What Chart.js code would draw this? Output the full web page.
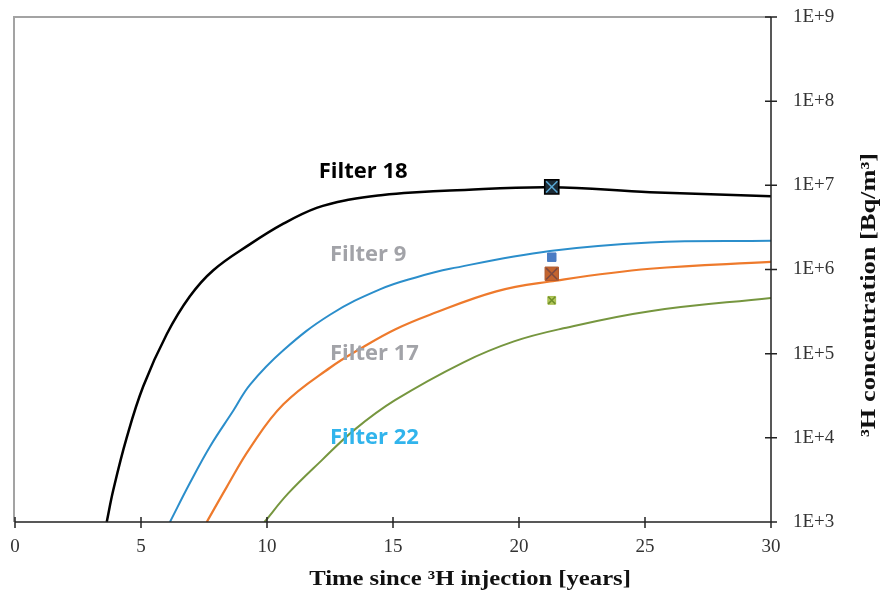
<!DOCTYPE html>
<html>
<head>
  <meta charset="UTF-8">
  <title>3H concentration vs time</title>
  <script src="https://cdn.jsdelivr.net/npm/chart.js"></script>
  <style>
    body { margin: 0; background: #fff; }
    canvas { display: block; }
  </style>
</head>
<body>
  <canvas id="chart" width="887" height="595"></canvas>

  <script>
    // Model curves (years since injection, Bq/m3)
    const f18Years  = [3.64, 3.9, 4.43, 5.09, 6.02, 6.94, 7.87, 9.33, 10.65, 11.97, 13.29, 14.6, 15.94, 17.26, 21.23, 25.2, 30];
    const f18Values = [1.0e3, 2.4e3, 1.0e4, 4.1e4, 1.7e5, 4.8e5, 9.8e5, 2.0e6, 3.5e6, 5.4e6, 6.8e6, 7.7e6, 8.3e6, 8.7e6, 9.5e6, 8.3e6, 7.4e6];

    const f9Years  = [6.15, 6.94, 7.74, 8.66, 9.33, 10.65, 12.5, 14.48, 15.94, 17.26, 21.23, 25.2, 30];
    const f9Values = [1.0e3, 2.9e3, 7.9e3, 2.1e4, 4.3e4, 1.1e5, 2.9e5, 5.8e5, 8.1e5, 1.02e6, 1.66e6, 2.1e6, 2.2e6];

    const f17Years  = [7.61, 8.4, 9.33, 10.65, 12.5, 13.82, 15.1, 16.47, 19.1, 21.23, 25.2, 30];
    const f17Values = [1.0e3, 2.6e3, 7.6e3, 2.5e4, 6.8e4, 1.2e5, 1.95e5, 2.9e5, 5.5e5, 7.2e5, 1.02e6, 1.23e6];

    const f22Years  = [9.9, 10.85, 12.17, 13.49, 15.08, 17.8, 19.8, 21.76, 25.2, 30];
    const f22Values = [1.0e3, 2.2e3, 5.4e3, 1.26e4, 2.8e4, 7.9e4, 1.4e5, 2.0e5, 3.2e5, 4.6e5];

    // Measured samples
    const sampleYear = 21.3;
    const sampleValues = { f18: 9.6e6, f9: 1.4e6, f17: 8.9e5, f22: 4.3e5 };

    // Axis ticks
    const xTicks = [0, 5, 10, 15, 20, 25, 30];
    const yExponents = [3, 4, 5, 6, 7, 8, 9];

    // Curve labels
    const labelTexts  = ['Filter 18', 'Filter 9', 'Filter 17', 'Filter 22'];
    const labelYears  = [12.05, 12.5, 12.5, 12.5];
    const labelValues = [1.45e7, 1.5e6, 1.0e5, 1.0e4];
    const labelColors = ['#000000', '#a2a3a8', '#a2a3a8', '#31b4ec'];

    const pts = (xs, ys) => xs.map((x, i) => ({ x: x, y: ys[i] }));

    function curve(xs, ys, color, width) {
      return {
        data: pts(xs, ys), borderColor: color, borderWidth: width,
        pointRadius: 0, fill: false, tension: 0.4, order: 10
      };
    }
    // lower order is drawn on top
    function marker(v, style, r, fill, stroke, bw, order) {
      return {
        data: [{ x: sampleYear, y: v }], showLine: false, order: order,
        pointStyle: style, pointRadius: r, pointBackgroundColor: fill,
        pointBorderColor: stroke, pointBorderWidth: bw
      };
    }

    const SERIF = '"Liberation Serif", "Times New Roman", serif';

    // frame, axes with crossing ticks, titles and curve labels
    const decor = {
      id: 'decor',
      beforeDatasetsDraw(chart) {
        const { ctx, chartArea: a } = chart;
        ctx.save();
        ctx.strokeStyle = '#a3a3a3';
        ctx.lineWidth = 2;
        ctx.beginPath();
        ctx.moveTo(a.left - 1, a.bottom);
        ctx.lineTo(a.left - 1, a.top);
        ctx.lineTo(a.right, a.top);
        ctx.stroke();
        ctx.restore();
      },
      afterDatasetsDraw(chart) {
        const { ctx, chartArea: a, scales: { x, y } } = chart;
        ctx.save();
        ctx.strokeStyle = '#222';
        ctx.lineWidth = 1.5;
        ctx.beginPath();
        ctx.moveTo(a.left, a.bottom); ctx.lineTo(a.right, a.bottom);
        ctx.moveTo(a.right, a.top);   ctx.lineTo(a.right, a.bottom);
        xTicks.forEach(t => {
          const px = x.getPixelForValue(t);
          ctx.moveTo(px, a.bottom - 5); ctx.lineTo(px, a.bottom + 6);
        });
        yExponents.forEach(e => {
          const py = y.getPixelForValue(Math.pow(10, e));
          ctx.moveTo(a.right - 6, py); ctx.lineTo(a.right + 6, py);
        });
        ctx.stroke();

        // curve labels
        ctx.font = 'bold 22px "Open Sans", "Noto Sans", sans-serif';
        ctx.textBaseline = 'middle';
        ctx.textAlign = 'left';
        labelTexts.forEach((t, i) => {
          ctx.fillStyle = labelColors[i];
          ctx.fillText(t, x.getPixelForValue(labelYears[i]), y.getPixelForValue(labelValues[i]));
        });

        // axis titles
        ctx.fillStyle = '#111';
        ctx.font = 'bold 22px ' + SERIF;
        ctx.textAlign = 'center';
        ctx.save();
        ctx.translate(470, 579);
        ctx.scale(1.12, 1);
        ctx.fillText('Time since \u00B3H injection [years]', 0, 0);
        ctx.restore();

        ctx.save();
        ctx.translate(869, 295);
        ctx.rotate(-Math.PI / 2);
        ctx.scale(1.2, 1);
        ctx.fillText('\u00B3H concentration [Bq/m\u00B3]', 0, 0);
        ctx.restore();
        ctx.restore();
      }
    };

    new Chart(document.getElementById('chart'), {
      type: 'line',
      data: {
        datasets: [
          curve(f18Years, f18Values, '#000000', 2.5),
          curve(f9Years, f9Values, '#2b8ecb', 2),
          curve(f17Years, f17Values, '#ee7a2c', 2.2),
          curve(f22Years, f22Values, '#76963f', 2),
          marker(sampleValues.f18, 'rect', 10, '#1c2b36', '#000000', 1.5, 5),
          marker(sampleValues.f18, 'crossRot', 8, '#5aa9d6', '#5aa9d6', 1.5, 1),
          marker(sampleValues.f9, 'rect', 6, '#4a7cc4', '#4a7cc4', 1, 5),
          marker(sampleValues.f17, 'rect', 9.5, '#c3642f', '#b05a30', 1, 5),
          marker(sampleValues.f17, 'crossRot', 8, '#7e4a40', '#7e4a40', 1.5, 1),
          marker(sampleValues.f22, 'rect', 5.5, '#b3c85a', '#a4bb4a', 1, 5),
          marker(sampleValues.f22, 'crossRot', 5, '#6f8f2a', '#6f8f2a', 1.5, 1)
        ]
      },
      options: {
        responsive: false,
        animation: false,
        layout: { padding: { left: 15, top: 17, right: 0, bottom: 0 } },
        plugins: { legend: { display: false }, tooltip: { enabled: false } },
        scales: {
          x: {
            type: 'linear', min: 0, max: 30,
            grid: { display: false, drawTicks: false },
            border: { display: false },
            afterBuildTicks: s => { s.ticks = xTicks.map(v => ({ value: v })); },
            afterFit: s => { s.height = 73; s.paddingLeft = 0; s.paddingRight = 0; },
            ticks: { padding: 14, color: '#333', font: { family: SERIF, size: 19 } }
          },
          y: {
            type: 'logarithmic', position: 'right', min: 1e3, max: 1e9,
            grid: { display: false, drawTicks: false },
            border: { display: false },
            afterBuildTicks: s => { s.ticks = yExponents.map(e => ({ value: Math.pow(10, e) })); },
            afterFit: s => { s.width = 116; s.paddingTop = 0; s.paddingBottom = 0; },
            ticks: {
              padding: 22, color: '#333', font: { family: SERIF, size: 19 },
              callback: v => '1E+' + Math.round(Math.log10(v))
            }
          }
        }
      },
      plugins: [decor]
    });
  </script>
</body>
</html>
